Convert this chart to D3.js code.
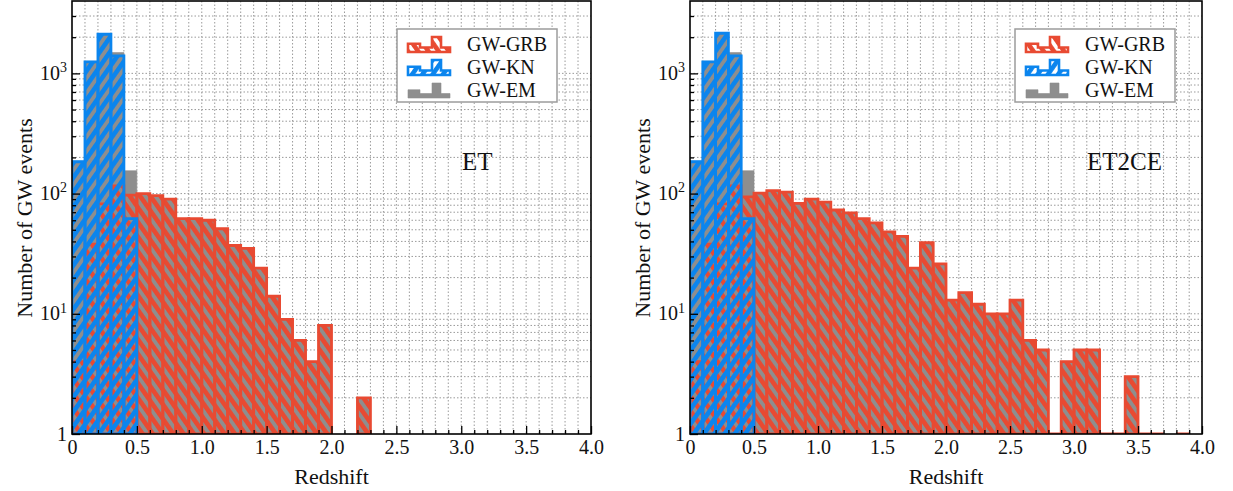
<!DOCTYPE html>
<html>
<head>
<meta charset="utf-8">
<script src="https://cdn.jsdelivr.net/npm/d3@7"></script>
<style>
body { margin: 0; background: #fff; }
svg, svg text { font-family: "Liberation Serif", "Times New Roman", serif !important; }
text { fill: #111; }
</style>
</head>
<body>
<svg id="chart" width="1233" height="491"></svg>
<script>
// redshift bin edges (width 0.1)
const binEdges = [0,0.1,0.2,0.3,0.4,0.5,0.6,0.7,0.8,0.9,1.0,1.1,1.2,1.3,1.4,1.5,1.6,1.7,1.8,1.9,
                  2.0,2.1,2.2,2.3,2.4,2.5,2.6,2.7,2.8,2.9,3.0,3.1,3.2,3.3,3.4,3.5,3.6,3.7,3.8,3.9,4.0];

// ET counts per bin
const etGRB = [4,38,82,116,97,100,96,90,62,62,60,51,37,35,24,14,9,6,4,8,
               0,0,2,0,0,0,0,0,0,0,0,0,0,0,0,0,0,0,0,0];
const etKN  = [184,1245,2115,1397,62,0,0,0,0,0,0,0,0,0,0,0,0,0,0,0,
               0,0,0,0,0,0,0,0,0,0,0,0,0,0,0,0,0,0,0,0];
const etEM  = [186,1260,2140,1490,155,100,96,90,62,62,60,51,37,35,24,14,9,6,4,8,
               0,0,2,0,0,0,0,0,0,0,0,0,0,0,0,0,0,0,0,0];

// ET2CE counts per bin
const ceGRB = [4,38,82,116,94,101,106,103,83,90,85,73,69,62,57,48,44,24,39,26,
               13,15,12,10,10,13,6,5,1,4,5,5,1,1,3,1,1,0,1,0];
const ceKN  = [184,1245,2157,1397,62,0,0,0,0,0,0,0,0,0,0,0,0,0,0,0,
               0,0,0,0,0,0,0,0,0,0,0,0,0,0,0,0,0,0,0,0];
const ceEM  = [186,1260,2180,1490,155,101,106,103,83,90,85,73,69,62,57,48,44,24,39,26,
               13,15,12,10,10,13,6,5,1,4,5,5,1,1,3,1,1,0,1,0];

const xMajor = [0,0.5,1.0,1.5,2.0,2.5,3.0,3.5,4.0];
const yMajor = [1,10,100,1000];
const yMinor = [2,3,4,5,6,7,8,9,20,30,40,50,60,70,80,90,200,300,400,500,600,700,800,900,2000,3000];
const legendNames = ["GW-GRB","GW-KN","GW-EM"];

const RED = "#e84a32", BLUE = "#0b85ee", GRAY = "#8e8e8e";
const SERIF = '"Liberation Serif", "Times New Roman", serif';

const svg = d3.select("#chart");
const defs = svg.append("defs");

function hatch(id, color, angle) {
  const p = defs.append("pattern").attr("id", id)
    .attr("patternUnits", "userSpaceOnUse")
    .attr("width", 8.4).attr("height", 10)
    .attr("patternTransform", `rotate(${angle})`);
  p.append("rect").attr("width", 4.6).attr("height", 10).attr("fill", color);
}
hatch("hRed", RED, -35);
hatch("hBlue", BLUE, 35);

function panel(id, left, right, grb, kn, em, tag, tagX) {
  const top = 1, bottom = 434;
  const x = d3.scaleLinear().domain([0, 4]).range([left, right]);
  const y = d3.scaleLog().domain([1, 4000]).range([bottom, top]);
  const g = svg.append("g");

  defs.append("clipPath").attr("id", "clip" + id)
    .append("rect").attr("x", left).attr("y", top)
    .attr("width", right - left).attr("height", bottom - top);

  // dotted grid
  const grid = g.append("g").attr("stroke", "#9a9a9a").attr("stroke-width", 1)
    .attr("stroke-dasharray", "1.5,2");
  grid.selectAll("line.v").data(binEdges.slice(1, -1)).join("line")
    .attr("x1", d => x(d)).attr("x2", d => x(d)).attr("y1", top).attr("y2", bottom);
  grid.selectAll("line.h").data(yMajor.slice(1).concat(yMinor)).join("line")
    .attr("x1", left).attr("x2", right).attr("y1", d => y(d)).attr("y2", d => y(d));

  const bars = g.append("g").attr("clip-path", `url(#clip${id})`);
  function drawBars(counts, fill, stroke, sw) {
    bars.append("g").selectAll("path")
      .data(counts.map((c, i) => ({c, i})).filter(d => d.c > 0))
      .join("path")
      .attr("d", d => {
        const xa = x(binEdges[d.i]), xb = x(binEdges[d.i + 1]);
        return `M${xa},${bottom}V${y(d.c)}H${xb}V${bottom}Z`;
      })
      .attr("fill", fill).attr("stroke", stroke).attr("stroke-width", sw);
  }
  drawBars(em, GRAY, GRAY, 0.6);
  drawBars(grb, "url(#hRed)", RED, 2.8);
  drawBars(kn, "url(#hBlue)", BLUE, 2.8);

  // axes, ticks inside
  const minorX = binEdges.filter(d => !xMajor.some(m => Math.abs(m - d) < 1e-9));
  const ax = g.append("g").attr("transform", `translate(0,${bottom})`);
  ax.call(d3.axisBottom(x).tickValues(xMajor).tickSize(-8).tickPadding(6)
    .tickFormat(d => d === 0 ? "0" : d.toFixed(1)));
  ax.append("g").call(d3.axisBottom(x).tickValues(minorX).tickSize(-4).tickFormat(""));
  ax.selectAll(".domain").remove();
  ax.attr("font-family", SERIF).attr("font-size", 20);
  ax.selectAll("g").attr("font-family", null).attr("font-size", null);
  ax.selectAll("text").attr("font-family", SERIF).attr("font-size", 20).attr("fill", "#111");

  const ay = g.append("g").attr("transform", `translate(${left},0)`);
  ay.call(d3.axisLeft(y).tickValues(yMajor).tickSize(-8).tickFormat(""));
  ay.append("g").call(d3.axisLeft(y).tickValues(yMinor).tickSize(-4).tickFormat(""));
  ay.selectAll(".domain").remove();
  ay.selectAll("line").attr("stroke-width", 1.3);
  ax.selectAll("line").attr("stroke-width", 1.3);

  yMajor.forEach(v => {
    const t = g.append("text").attr("x", left - 5).attr("y", y(v))
      .attr("dy", "0.33em").attr("text-anchor", "end")
      .attr("font-family", SERIF).attr("font-size", 20);
    if (v === 1) { t.text("1"); return; }
    t.append("tspan").text("10");
    t.append("tspan").attr("font-size", 14).attr("dy", "-0.55em")
      .text(String(Math.round(Math.log10(v))));
  });

  g.append("rect").attr("x", left).attr("y", top)
    .attr("width", right - left).attr("height", bottom - top)
    .attr("fill", "none").attr("stroke", "#000").attr("stroke-width", 1.6);

  // labels
  g.append("text").attr("x", (left + right) / 2).attr("y", 484)
    .attr("text-anchor", "middle").attr("font-family", SERIF).attr("font-size", 22).text("Redshift");
  g.append("text").attr("transform", `translate(${left - 40},218) rotate(-90)`)
    .attr("text-anchor", "middle").attr("font-family", SERIF).attr("font-size", 22)
    .text("Number of GW events");
  g.append("text").attr("x", tagX).attr("y", 170).attr("font-family", SERIF)
    .attr("font-size", 25).text(tag);

  // legend
  const lx = left + 325, ly = 29;
  const lg = g.append("g");
  lg.append("rect").attr("x", lx).attr("y", ly).attr("width", 160).attr("height", 73)
    .attr("fill", "#fff").attr("stroke", "#9c9c9c").attr("stroke-width", 1.5);
  const fills = ["url(#hRed)", "url(#hBlue)", GRAY];
  const strokes = [RED, BLUE, GRAY];
  legendNames.forEach((name, i) => {
    const cy = ly + 15 + i * 23;
    const ix = lx + 11, b = cy + 8, h = 15;
    const shape = `M${ix},${b}V${b - h * 0.55}H${ix + 12}V${b - h * 0.3}H${ix + 24}V${b - h}H${ix + 33}V${b - h * 0.3}H${ix + 42}V${b}Z`;
    lg.append("path").attr("d", shape).attr("fill", fills[i])
      .attr("stroke", strokes[i]).attr("stroke-width", i < 2 ? 2.6 : 0.6);
    lg.append("text").attr("x", lx + 70).attr("y", cy + 7).attr("font-family", SERIF)
      .attr("font-size", 20).text(name);
  });
}

panel("L", 72, 591, etGRB, etKN, etEM, "ET", 462);
panel("R", 690, 1202, ceGRB, ceKN, ceEM, "ET2CE", 1087);
</script>
</body>
</html>
